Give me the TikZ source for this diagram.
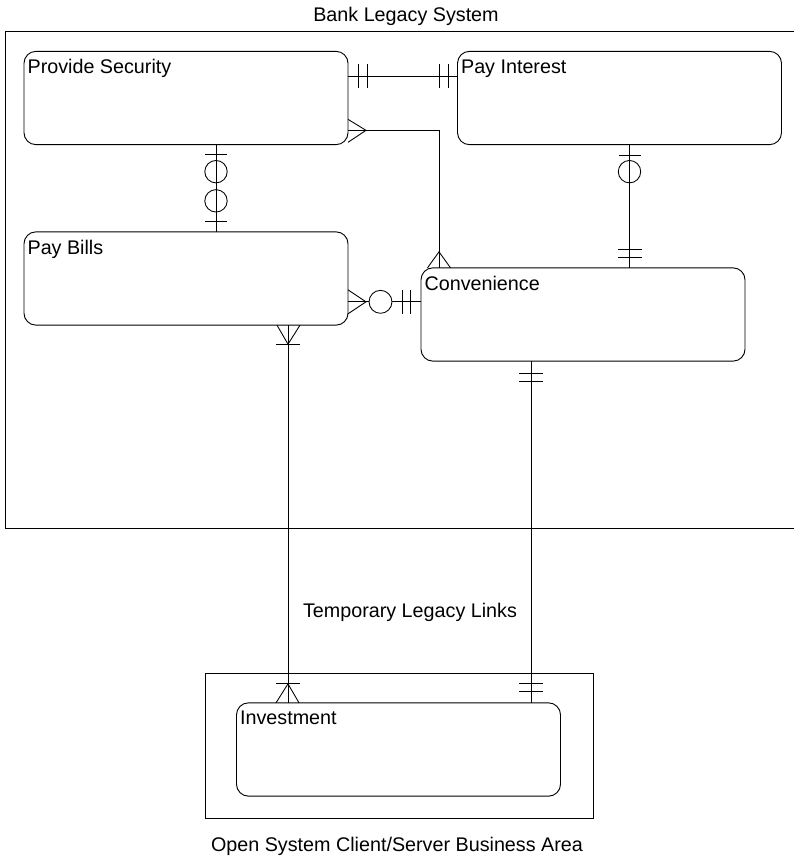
\documentclass[tikz,border=0pt]{standalone}
\usepackage{fontspec}
\setmainfont{Liberation Sans}
\usetikzlibrary{calc}
\begin{document}
\begin{tikzpicture}[x=0.75pt,y=-0.75pt,
  every node/.style={font=\fontsize{14.8pt}{17pt}\selectfont},
  entity/.style={draw, rounded corners=9pt, minimum width=243pt, minimum height=70pt, inner sep=0pt, outer sep=0pt, line width=0.7pt},
  elabel/.style={anchor=north west, inner xsep=2.5pt, inner ysep=6pt},
  frame/.style={draw, line width=0.7pt},
  conn/.style={line width=0.65pt},
  sym/.style={line width=0.65pt}]
\useasboundingbox (0,0) rectangle (793,860);

% frames
\draw[frame] (800,31) -- (5,31) -- (5,528) -- (800,528);
\draw[frame] (205,673) rectangle (593,818);

% titles
\node (tbank) at (406,16) {Bank Legacy System};
\node (tlinks) at (410,612) {Temporary Legacy Links};
\node (topen) at (397,846) {Open System Client/Server Business Area};

% entities
\node[entity, label={[elabel]north west:Provide Security}] (ps) at (186,98) {};
\node[entity, label={[elabel]north west:Pay Interest}] (pi) at (619.5,98) {};
\node[entity, label={[elabel]north west:Pay Bills}] (pb) at (186,278.5) {};
\node[entity, label={[elabel]north west:Convenience}] (conv) at (583,314.5) {};
\node[entity, label={[elabel]north west:Investment}] (inv) at (398.5,749.5) {};

% 1: Provide Security -- Pay Interest
\coordinate (c1a) at ($(ps.north east)+(0,25)$);
\coordinate (c1b) at (c1a -| pi.west);
\draw[conn] (c1a) -- (c1b);
\draw[sym] ($(c1a)+(10,-12)$) -- ++(0,24);
\draw[sym] ($(c1a)+(19,-12)$) -- ++(0,24);
\draw[sym] ($(c1b)+(-18,-12)$) -- ++(0,24);
\draw[sym] ($(c1b)+(-9,-12)$) -- ++(0,24);

% 2: Provide Security -- Convenience
\coordinate (c2a) at ($(ps.north east)+(0,79)$);
\coordinate (c2b) at ($(conv.north west)+(18,0)$);
\draw[conn] (c2a) -- (c2a -| c2b) -- (c2b);
\draw[sym] ($(c2a)+(0,-11)$) -- ($(c2a)+(18,0)$) -- ($(c2a)+(0,12)$);
\draw[sym] ($(c2b)+(-11.5,0)$) -- ($(c2b)+(0,-16)$) -- ($(c2b)+(11.5,0)$);

% 3: Provide Security -- Pay Bills
\coordinate (c3a) at ($(ps.south west)+(192,0)$);
\coordinate (c3b) at (c3a |- pb.north);
\draw[conn] (c3a) -- (c3b);
\draw[sym] ($(c3a)+(-11,10)$) -- ++(22,0);
\draw[sym] ($(c3a)+(0,27)$) circle[radius=8.4pt];
\draw[sym] ($(c3b)+(0,-31)$) circle[radius=8.4pt];
\draw[sym] ($(c3b)+(-11,-10)$) -- ++(22,0);

% 4: Pay Interest -- Convenience
\coordinate (c4a) at ($(pi.south west)+(172,0)$);
\coordinate (c4b) at (c4a |- conv.north);
\draw[conn] (c4a) -- (c4b);
\draw[sym] ($(c4a)+(-11,11)$) -- ++(22,0);
\draw[sym] ($(c4a)+(0,27)$) circle[radius=8.4pt];
\draw[sym] ($(c4b)+(-12,-18)$) -- ++(24,0);
\draw[sym] ($(c4b)+(-12,-10)$) -- ++(24,0);

% 5: Pay Bills -- Convenience
\coordinate (c5a) at ($(pb.north east)+(0,70)$);
\coordinate (c5b) at (c5a -| conv.west);
\draw[conn] (c5a) -- (c5b);
\draw[sym] ($(c5a)+(0,-12)$) -- ($(c5a)+(18,0)$) -- ($(c5a)+(0,12)$);
\draw[sym, fill=white] ($(c5a)+(32.5,0)$) circle[radius=8.6pt];
\draw[sym] ($(c5b)+(-19,-12)$) -- ++(0,24);
\draw[sym] ($(c5b)+(-11,-12)$) -- ++(0,24);

% 6: Pay Bills -- Investment
\coordinate (c6a) at ($(pb.south west)+(264,0)$);
\coordinate (c6b) at (c6a |- inv.north);
\draw[conn] (c6a) -- (c6b);
\draw[sym] ($(c6a)+(-11,0)$) -- ($(c6a)+(0,19)$) -- ($(c6a)+(12,0)$);
\draw[sym] ($(c6a)+(-12,19)$) -- ++(24,0);
\draw[sym] ($(c6b)+(-12,0)$) -- ($(c6b)+(0,-19)$) -- ($(c6b)+(11,0)$);
\draw[sym] ($(c6b)+(-12,-19)$) -- ++(24,0);

% 7: Convenience -- Investment
\coordinate (c7a) at ($(conv.south west)+(110,0)$);
\coordinate (c7b) at (c7a |- inv.north);
\draw[conn] (c7a) -- (c7b);
\draw[sym] ($(c7a)+(-12,12)$) -- ++(24,0);
\draw[sym] ($(c7a)+(-12,20)$) -- ++(24,0);
\draw[sym] ($(c7b)+(-12,-19)$) -- ++(24,0);
\draw[sym] ($(c7b)+(-12,-11)$) -- ++(24,0);
\end{tikzpicture}
\end{document}
